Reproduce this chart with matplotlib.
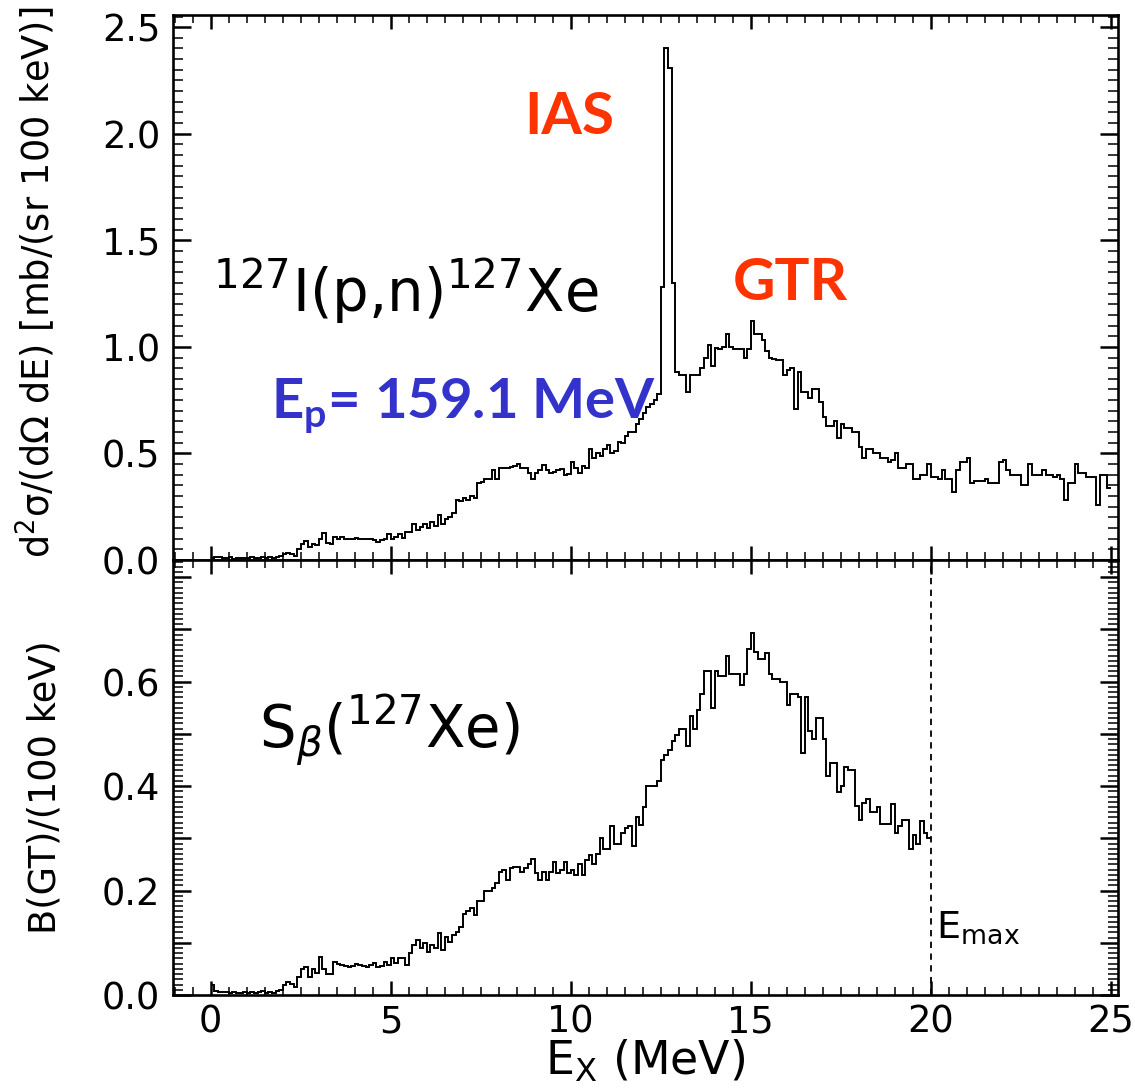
import numpy as np
import matplotlib
matplotlib.use('Agg')
import matplotlib.pyplot as plt
from matplotlib.ticker import MultipleLocator, FormatStrFormatter, FuncFormatter

plt.rcParams['font.family'] = ['DejaVu Sans']
plt.rcParams['mathtext.fontset'] = 'custom'
plt.rcParams['mathtext.rm'] = 'DejaVu Sans'
plt.rcParams['mathtext.it'] = 'DejaVu Sans:italic'
plt.rcParams['mathtext.bf'] = 'Lato:bold'
plt.rcParams['mathtext.default'] = 'rm'

# 0.1 MeV bins, (p,n) spectrum from 0 to 25 MeV
pn_xs = [
    0.010, 0.015, 0.012, 0.008, 0.010, 0.012, 0.006, 0.009, 0.011, 0.007,
    0.010, 0.013, 0.008, 0.010, 0.015, 0.009, 0.012, 0.010, 0.014, 0.020,
    0.030, 0.035, 0.030, 0.020, 0.050, 0.075, 0.090, 0.060, 0.075, 0.070,
    0.100, 0.125, 0.080, 0.075, 0.110, 0.100, 0.110, 0.100, 0.100, 0.100,
    0.105, 0.100, 0.098, 0.100, 0.100, 0.095, 0.086, 0.095, 0.100, 0.120,
    0.100, 0.110, 0.120, 0.105, 0.130, 0.130, 0.170, 0.140, 0.155, 0.170,
    0.150, 0.180, 0.160, 0.210, 0.170, 0.190, 0.200, 0.220, 0.280, 0.275,
    0.290, 0.280, 0.300, 0.290, 0.360, 0.365, 0.380, 0.380, 0.420, 0.380,
    0.430, 0.430, 0.430, 0.435, 0.440, 0.450, 0.430, 0.430, 0.410, 0.380,
    0.410, 0.420, 0.445, 0.420, 0.410, 0.415, 0.420, 0.425, 0.400, 0.405,
    0.460, 0.430, 0.410, 0.440, 0.430, 0.520, 0.480, 0.500, 0.490, 0.520,
    0.540, 0.500, 0.510, 0.555, 0.550, 0.580, 0.600, 0.600, 0.640, 0.660,
    0.690, 0.720, 0.730, 0.750, 0.780, 1.280, 2.400, 2.310, 1.300, 0.880,
    0.870, 0.870, 0.790, 0.870, 0.870, 0.870, 0.900, 0.950, 1.010, 0.910,
    0.995, 0.990, 1.000, 1.060, 1.000, 0.990, 0.990, 0.990, 0.950, 0.990,
    1.120, 1.060, 1.060, 1.030, 0.980, 0.950, 0.945, 0.940, 0.940, 0.870,
    0.890, 0.900, 0.710, 0.880, 0.790, 0.790, 0.760, 0.800, 0.800, 0.740,
    0.670, 0.630, 0.630, 0.650, 0.570, 0.640, 0.620, 0.620, 0.600, 0.600,
    0.530, 0.480, 0.520, 0.520, 0.500, 0.500, 0.480, 0.480, 0.460, 0.470,
    0.500, 0.430, 0.430, 0.450, 0.450, 0.380, 0.380, 0.400, 0.400, 0.450,
    0.390, 0.390, 0.380, 0.420, 0.380, 0.380, 0.320, 0.420, 0.460, 0.460,
    0.480, 0.360, 0.370, 0.370, 0.370, 0.380, 0.360, 0.360, 0.360, 0.460,
    0.470, 0.420, 0.400, 0.400, 0.400, 0.350, 0.350, 0.450, 0.400, 0.400,
    0.400, 0.420, 0.400, 0.400, 0.390, 0.400, 0.380, 0.280, 0.360, 0.360,
    0.450, 0.410, 0.410, 0.390, 0.390, 0.390, 0.260, 0.400, 0.400, 0.340,
]

# B(GT) per 0.1 MeV bin, 0 to 20 MeV
bgt = [
    0.020, 0.008, 0.006, 0.005, 0.006, 0.004, 0.006, 0.003, 0.004, 0.005,
    0.004, 0.006, 0.003, 0.005, 0.007, 0.004, 0.006, 0.003, 0.008, 0.010,
    0.020, 0.025, 0.022, 0.016, 0.035, 0.050, 0.054, 0.035, 0.050, 0.042,
    0.073, 0.050, 0.040, 0.040, 0.064, 0.060, 0.057, 0.055, 0.054, 0.056,
    0.060, 0.058, 0.056, 0.054, 0.058, 0.062, 0.054, 0.055, 0.064, 0.058,
    0.070, 0.061, 0.070, 0.070, 0.058, 0.080, 0.096, 0.105, 0.090, 0.099,
    0.083, 0.096, 0.090, 0.118, 0.086, 0.112, 0.102, 0.115, 0.120, 0.130,
    0.156, 0.160, 0.166, 0.153, 0.180, 0.180, 0.200, 0.200, 0.204, 0.214,
    0.236, 0.240, 0.220, 0.243, 0.246, 0.246, 0.236, 0.243, 0.250, 0.260,
    0.233, 0.220, 0.236, 0.220, 0.236, 0.255, 0.233, 0.240, 0.255, 0.233,
    0.240, 0.230, 0.250, 0.230, 0.258, 0.268, 0.250, 0.270, 0.300, 0.280,
    0.280, 0.324, 0.290, 0.290, 0.310, 0.320, 0.324, 0.285, 0.340, 0.325,
    0.360, 0.400, 0.400, 0.400, 0.410, 0.450, 0.460, 0.470, 0.487, 0.497,
    0.510, 0.510, 0.477, 0.535, 0.510, 0.545, 0.577, 0.620, 0.620, 0.550,
    0.620, 0.610, 0.610, 0.650, 0.615, 0.615, 0.615, 0.594, 0.615, 0.663,
    0.694, 0.657, 0.644, 0.644, 0.654, 0.615, 0.606, 0.606, 0.600, 0.600,
    0.555, 0.577, 0.577, 0.570, 0.463, 0.570, 0.506, 0.490, 0.530, 0.530,
    0.490, 0.420, 0.445, 0.445, 0.388, 0.400, 0.436, 0.430, 0.430, 0.362,
    0.336, 0.368, 0.375, 0.350, 0.350, 0.360, 0.327, 0.327, 0.327, 0.365,
    0.310, 0.324, 0.336, 0.336, 0.280, 0.307, 0.290, 0.333, 0.310, 0.300,
]

bin_width = 0.1
e_max = 20.0

pn_edges = np.arange(len(pn_xs) + 1) * bin_width
bgt_edges = np.arange(len(bgt) + 1) * bin_width

fig = plt.figure(figsize=(11.35, 10.89), dpi=100)
ax1 = fig.add_axes([0.1524, 0.4858, 0.8326, 0.5004])
ax2 = fig.add_axes([0.1524, 0.0863, 0.8326, 0.3995], sharex=ax1)

ax1.stairs(pn_xs, pn_edges, baseline=None, color='black', lw=1.4)
ax2.stairs(bgt, bgt_edges, baseline=None, color='black', lw=1.4)
ax2.axvline(e_max, color='black', lw=1.3, ls=(0, (3.5, 3)))

ax1.set_xlim(-1.05, 25.2)
ax1.set_ylim(0, 2.557)
ax2.set_ylim(0, 0.833)

for ax in (ax1, ax2):
    for sp in ax.spines.values():
        sp.set_linewidth(1.9)
    ax.xaxis.set_major_locator(MultipleLocator(5))
    ax.xaxis.set_minor_locator(MultipleLocator(0.5))
    ax.tick_params(which='both', direction='in', top=True, right=True,
                   labelsize=26.5)
    ax.tick_params(which='major', width=1.8)
    ax.tick_params(which='minor', width=1.1)
    ax.tick_params(axis='x', which='major', length=10, pad=6)
    ax.tick_params(axis='x', which='minor', length=5.5)
    ax.tick_params(axis='y', which='major', length=13, pad=9)
    ax.tick_params(axis='y', which='minor', length=7.5)

ax1.tick_params(labelbottom=False)
ax1.yaxis.set_major_locator(MultipleLocator(0.5))
ax1.yaxis.set_minor_locator(MultipleLocator(0.05))
ax1.yaxis.set_major_formatter(FormatStrFormatter('%.1f'))

ax2.yaxis.set_major_locator(MultipleLocator(0.1))
ax2.yaxis.set_minor_locator(MultipleLocator(0.01))
ax2.yaxis.set_major_formatter(FuncFormatter(
    lambda v, p: '%.1f' % v if round(v * 10) % 2 == 0 and v < 0.75 else ''))

ax1.set_ylabel('d$^2$σ/(dΩ dE) [mb/(sr 100 keV)]', fontsize=26.5)
ax2.set_ylabel('B(GT)/(100 keV)', fontsize=26.5)
ax1.yaxis.set_label_coords(-0.122, 0.51)
ax2.yaxis.set_label_coords(-0.116, 0.478)
ax2.set_xlabel('E$_{\\rm X}$ (MeV)', fontsize=33, labelpad=-2)

ax1.text(0.05, 1.165, '$^{127}$I(p,n)$^{127}$Xe', fontsize=41.5,
         ha='left', va='baseline')
ax1.text(9.97, 2.0, 'IAS', fontsize=42, fontweight='bold', family='Lato',
         color='#FF3300', ha='center', va='baseline')
ax1.text(16.1, 1.22, 'GTR', fontsize=42, fontweight='bold', family='Lato',
         color='#FF3300', ha='center', va='baseline')
ax1.text(1.66, 0.667, 'E$_\\mathbf{p}$= 159.1 MeV', fontsize=40.5,
         fontweight='bold', family='Lato', color='#3333CC',
         ha='left', va='baseline')

ax2.text(1.33, 0.473, 'S$_{\\mathit{β}}$($^{127}$Xe)', fontsize=41.5,
         ha='left', va='baseline')
ax2.text(20.14, 0.109, 'E$_{\\rm max}$', fontsize=27.5,
         ha='left', va='baseline')

fig.savefig('out.png', dpi=100)
